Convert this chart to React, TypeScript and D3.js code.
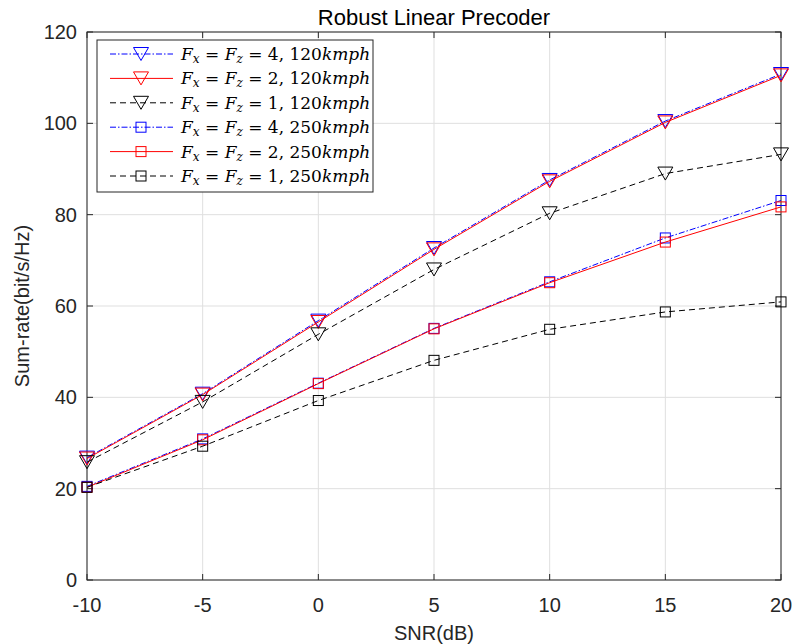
import React from "react";
import * as d3 from "d3";

const snr = [-10, -5, 0, 5, 10, 15, 20];
const s4_120 = [26.8, 40.8, 56.8, 72.7, 87.6, 100.5, 110.8];
const s2_120 = [26.6, 40.6, 56.5, 72.4, 87.3, 100.2, 110.5];
const s1_120 = [25.8, 39.0, 53.8, 68.0, 80.3, 89.0, 93.2];
const s4_250 = [20.5, 30.9, 43.1, 55.1, 65.3, 74.9, 83.1];
const s2_250 = [20.3, 30.7, 43.0, 55.0, 65.1, 74.0, 81.7];
const s1_250 = [20.3, 29.3, 39.3, 48.1, 54.9, 58.7, 60.9];
const xTicks = [-10, -5, 0, 5, 10, 15, 20];
const yTicks = [0, 20, 40, 60, 80, 100, 120];
const legendNums = ["4", "2", "1", "4", "2", "1"];
const legendSpeeds = ["120", "120", "120", "250", "250", "250"];

const series = [
  { values: s4_120, color: "#0000ff", dash: "6,2,1.5,2", marker: "tri" },
  { values: s2_120, color: "#ff0000", dash: "", marker: "tri" },
  { values: s1_120, color: "#000000", dash: "6,4", marker: "tri" },
  { values: s4_250, color: "#0000ff", dash: "6,2,1.5,2", marker: "sq" },
  { values: s2_250, color: "#ff0000", dash: "", marker: "sq" },
  { values: s1_250, color: "#000000", dash: "6,4", marker: "sq" },
];

const W = 793, H = 644;
const L = 87, R = 781, T = 32, B = 580;

function Marker({ kind, x, y, color }: { kind: string; x: number; y: number; color: string }) {
  if (kind === "tri") {
    const w = 15, h = 13;
    const p = `M${x - w / 2},${y - h / 2}L${x + w / 2},${y - h / 2}L${x},${y + h / 2}Z`;
    return <path d={p} fill="none" stroke={color} strokeWidth={1} />;
  }
  const s = 10;
  return <rect x={x - s / 2} y={y - s / 2} width={s} height={s} fill="none" stroke={color} strokeWidth={1} />;
}

export default function App() {
  const x = d3.scaleLinear().domain([-10, 20]).range([L, R]);
  const y = d3.scaleLinear().domain([0, 120]).range([B, T]);
  const line = d3.line<number>().x((_, i) => x(snr[i])).y((d) => y(d));
  const axisColor = "#262626";
  const font = "'Liberation Sans', Arial, Helvetica, sans-serif";
  const lgX = 97, lgY = 40, lgW = 276, lgH = 152;
  const rowY = (i: number) => 54 + i * 24.4;
  return (
    <svg width={W} height={H} style={{ position: "absolute", left: 0, top: 0, background: "#fff" }}>
      <rect x={0} y={0} width={W} height={H} fill="#fff" />
      {xTicks.map((t) => (
        <line key={"gx" + t} x1={x(t)} x2={x(t)} y1={T} y2={B} stroke="#dfdfdf" strokeWidth={1} />
      ))}
      {yTicks.map((t) => (
        <line key={"gy" + t} x1={L} x2={R} y1={y(t)} y2={y(t)} stroke="#dfdfdf" strokeWidth={1} />
      ))}
      {xTicks.map((t) => (
        <g key={"tx" + t}>
          <line x1={x(t)} x2={x(t)} y1={B} y2={B - 6} stroke={axisColor} />
          <line x1={x(t)} x2={x(t)} y1={T} y2={T + 6} stroke={axisColor} />
          <text x={x(t)} y={612} textAnchor="middle" fontFamily={font} fontSize={20} fill="#262626">
            {t}
          </text>
        </g>
      ))}
      {yTicks.map((t) => (
        <g key={"ty" + t}>
          <line x1={L} x2={L + 6} y1={y(t)} y2={y(t)} stroke={axisColor} />
          <line x1={R} x2={R - 6} y1={y(t)} y2={y(t)} stroke={axisColor} />
          <text x={77} y={y(t) + 7} textAnchor="end" fontFamily={font} fontSize={20} fill="#262626">
            {t}
          </text>
        </g>
      ))}
      <rect x={L} y={T} width={R - L} height={B - T} fill="none" stroke={axisColor} strokeWidth={1} />
      {series.map((s, si) => (
        <g key={"s" + si}>
          <path d={line(s.values) || ""} fill="none" stroke={s.color} strokeWidth={1} strokeDasharray={s.dash} />
          {s.values.map((v, i) => (
            <Marker key={i} kind={s.marker} x={x(snr[i])} y={y(v)} color={s.color} />
          ))}
        </g>
      ))}
      <rect x={lgX} y={lgY} width={lgW} height={lgH} fill="#fff" stroke={axisColor} strokeWidth={1} />
      {series.map((s, i) => (
        <g key={"lg" + i}>
          <line x1={110} x2={173} y1={rowY(i)} y2={rowY(i)} stroke={s.color} strokeWidth={1} strokeDasharray={s.dash} />
          <Marker kind={s.marker} x={141} y={rowY(i)} color={s.color} />
          <text x={181} y={rowY(i) + 6} fontFamily="'DejaVu Serif', 'Liberation Serif', serif" fontSize={17} fill="#000">
            <tspan fontStyle="italic">F</tspan>
            <tspan fontStyle="italic" fontSize={12} dy={3}>x</tspan>
            <tspan dy={-3}> = </tspan>
            <tspan fontStyle="italic">F</tspan>
            <tspan fontStyle="italic" fontSize={12} dy={3}>z</tspan>
            <tspan dy={-3}> = {legendNums[i]}, {legendSpeeds[i]}</tspan>
            <tspan fontStyle="italic">kmph</tspan>
          </text>
        </g>
      ))}
      <text x={(L + R) / 2} y={25} textAnchor="middle" fontFamily={font} fontSize={22} fill="#000">
        Robust Linear Precoder
      </text>
      <text x={(L + R) / 2} y={640} textAnchor="middle" fontFamily={font} fontSize={20} fill="#262626">
        SNR(dB)
      </text>
      <text
        transform={`translate(29, ${(T + B) / 2}) rotate(-90)`}
        textAnchor="middle"
        fontFamily={font}
        fontSize={20}
        fill="#262626"
      >
        Sum-rate(bit/s/Hz)
      </text>
    </svg>
  );
}
